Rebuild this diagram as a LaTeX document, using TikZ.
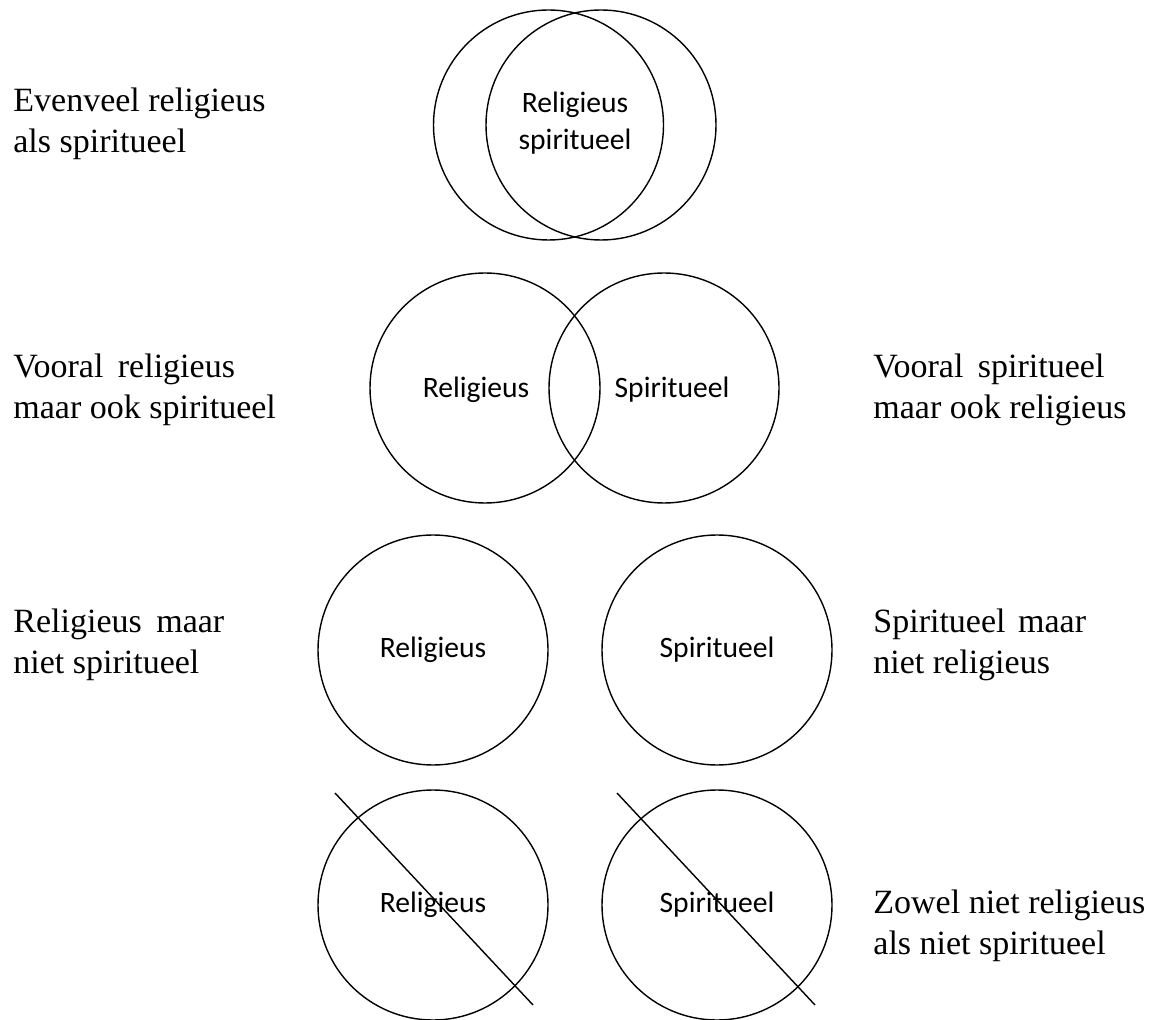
\documentclass[tikz,border=0pt]{standalone}
\usepackage{fontspec}
\setmainfont{Liberation Serif}
\newfontfamily\calibrifont{Carlito}
\usetikzlibrary{positioning}

\begin{document}
\begin{tikzpicture}[x=0.5pt,y=-0.5pt,
		ring/.style={draw,circle,line width=0.7pt,minimum size=115pt,inner sep=0pt},
		word/.style={font=\calibrifont\fontsize{14.8}{18.5}\selectfont,align=center},
		lbl/.style={anchor=west,align=left,inner sep=0pt,font=\fontsize{17}{20.3}\selectfont},
		cross/.style={line width=0.7pt}]
			
			\useasboundingbox (0,0) rectangle (1155,1020);
			
			% evenveel
			\node[ring] (evA) at (548.5,125) {};
			\node[ring] (evB) at (601,125) {};
			\node[word] (evT) at (575,123) {Religieus\\spiritueel};
			\node[lbl] (evL) at (13,124) {Evenveel religieus\\als spiritueel};
			
			% vooral
			\node[ring] (voA) at (485,388) {};
			\node[ring] (voB) at (664,388) {};
			\node[word] (voTA) at (476,390) {Religieus};
			\node[word] (voTB) at (672,390) {Spiritueel};
			\node[lbl] (voL) at (13,390) {Vooral\hspace{3pt} religieus\\maar ook spiritueel};
			\node[lbl] (voR) at (873,390) {Vooral\hspace{3pt} spiritueel\\maar ook religieus};
			
			% alleen
			\node[ring,word] (rel) at (433,650) {Religieus};
			\node[ring,word] (spi) at (717,650) {Spiritueel};
			\node[lbl] (relL) at (13,645) {Religieus\hspace{3pt} maar\\niet spiritueel};
			\node[lbl] (spiR) at (873,645) {Spiritueel\hspace{2pt} maar\\niet religieus};
			
			% geen van beide
			\node[ring,word] (norel) at (433,905) {Religieus};
			\node[ring,word] (nospi) at (717,905) {Spiritueel};
			\draw[cross] ([shift={(-98,-112)}]norel.center)--([shift={(100,100)}]norel.center);
			\draw[cross] ([shift={(-100,-112)}]nospi.center)--([shift={(98,100)}]nospi.center);
			\node[lbl] (noR) at (873,926) {Zowel niet religieus\\als niet spiritueel};
			
		\end{tikzpicture}
\end{document}
